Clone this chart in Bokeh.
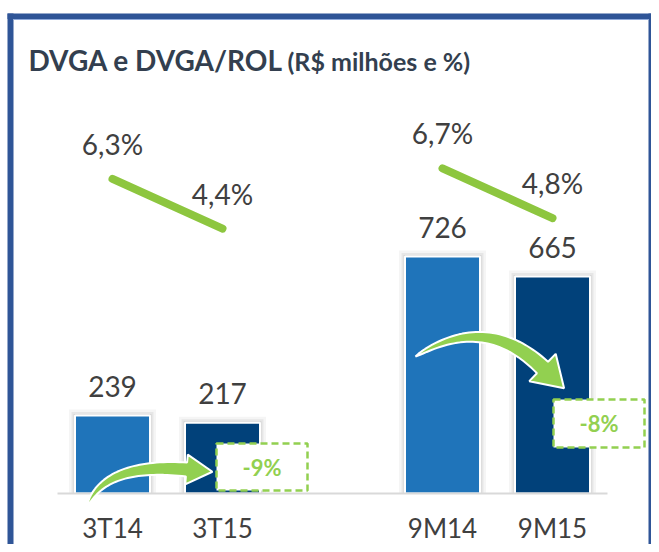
import math
from bokeh.plotting import figure
from bokeh.models import Range1d
from bokeh.core.properties import value
from bokeh.embed import file_html
from bokeh.resources import INLINE

# ---------------- data ----------------
categories = ["3T14", "3T15", "9M14", "9M15"]
groups = ["3T", "3T", "9M", "9M"]
dvga = [239, 217, 726, 665]
dvga_rol = [6.3, 4.4, 6.7, 4.8]
dvga_rol_labels = ["6,3%", "4,4%", "6,7%", "4,8%"]
variation_labels = ["-9%", "-8%"]
title_main = "DVGA e DVGA/ROL"
title_sub = "(R$ milhões e %)"

# ---------------- styles ----------------
BAR_COLORS = ["#1F74BA", "#01417A", "#1F74BA", "#01417A"]
GREEN_LINE = "#8DC63F"
GREEN = "#92D050"
TEXT = "#404040"
TITLE_C = "#333F4F"
FRAME_C = "#2F5597"
FONT = "Lato"

W, H = 651, 544

# x positions: index plus one empty slot between groups
xs = []
g_idx, prev = -1, None
for i, g in enumerate(groups):
    if g != prev:
        g_idx += 1
        prev = g
    xs.append(i + g_idx)

# layout mapping (canvas pixels -> data)
PX_UNIT = 110.0   # px per x unit
X0 = 112.0        # canvas px of x = 0
Y0 = 493.0        # canvas px of baseline
K = 237.0 / 726.0 # px per R$ milhão


def X(px):
    return (px - X0) / PX_UNIT


def Y(py):
    return (Y0 - py) / K


PCT_MID, PCT_PY, PCT_K = 5.55, 198.0, 26.26

p = figure(width=W, height=H,
           x_range=Range1d(X(0), X(W)), y_range=Range1d(Y(H), Y(0)),
           x_axis_type=None, y_axis_type=None,
           toolbar_location=None, output_backend="svg",
           min_border=0, outline_line_color=None)
p.extra_y_ranges = {"pct": Range1d(PCT_MID + (PCT_PY - H) / PCT_K,
                                   PCT_MID + (PCT_PY - 0) / PCT_K)}
p.background_fill_color = "white"
p.border_fill_color = "white"
p.xgrid.visible = False
p.ygrid.visible = False

# frame border (left, top, right)
p.quad(left=[X(7), X(7), X(648)], right=[X(13), X(W), X(W)],
       top=[Y(13), Y(13), Y(13)], bottom=[Y(H), Y(18.5), Y(H)],
       fill_color=FRAME_C, line_color=None)
p.segment(x0=[X(13)], y0=[Y(19)], x1=[X(648)], y1=[Y(19)],
          line_color="#8FAADC", line_width=1)

# title
p.text(x=[X(28)], y=[Y(59)], text=[title_main], text_font=value(FONT),
       text_font_style="bold", text_font_size="28px", text_color=TITLE_C,
       text_baseline="middle", text_align="left")
p.text(x=[X(287)], y=[Y(60)], text=[title_sub], text_font=value(FONT),
       text_font_style="bold", text_font_size="25px", text_color=TITLE_C,
       text_baseline="middle", text_align="left")

# bar shadows
bw = 75.0 / PX_UNIT
for extra, alpha in [(12, 0.04), (7, 0.06), (3, 0.08)]:
    p.vbar(x=xs, top=[v + (extra / 2) / K for v in dvga], bottom=0,
           width=bw + extra / PX_UNIT, fill_color="black", fill_alpha=alpha,
           line_color=None)

# bars
p.vbar(x=xs, top=dvga, bottom=0, width=bw, fill_color=BAR_COLORS,
       line_color="white", line_width=2)

# baseline
p.segment(x0=[xs[0] - 0.5], y0=[0], x1=[xs[-1] + 0.5], y1=[0],
          line_color="#D9D9D9", line_width=2)

# value labels
p.text(x=xs, y=dvga, text=[str(v) for v in dvga], y_offset=-29,
       text_font=value(FONT), text_font_size="28px", text_color=TEXT,
       text_align="center", text_baseline="middle")

# category labels
p.text(x=xs, y=[0] * len(xs), text=categories, y_offset=34,
       text_font=value(FONT), text_font_size="26px", text_color=TEXT,
       text_align="center", text_baseline="middle")

# percentage lines + labels
for i in range(0, len(xs), 2):
    p.line(x=xs[i:i + 2], y=dvga_rol[i:i + 2], y_range_name="pct",
           line_color=GREEN_LINE, line_width=8, line_cap="round")
p.text(x=xs, y=dvga_rol, text=dvga_rol_labels, y_range_name="pct",
       y_offset=-35, text_font=value(FONT), text_font_size="28px",
       text_color=TEXT, text_align="center", text_baseline="middle")


# curved arrows (computed in canvas pixels, converted to data)
def curved_arrow(p0, c, p2, w_end, head_len, head_half, n=40):
    upper, lower = [], []
    for k in range(n + 1):
        t = k / n
        bx = (1 - t) ** 2 * p0[0] + 2 * t * (1 - t) * c[0] + t ** 2 * p2[0]
        by = (1 - t) ** 2 * p0[1] + 2 * t * (1 - t) * c[1] + t ** 2 * p2[1]
        dx = 2 * (1 - t) * (c[0] - p0[0]) + 2 * t * (p2[0] - c[0])
        dy = 2 * (1 - t) * (c[1] - p0[1]) + 2 * t * (p2[1] - c[1])
        L = math.hypot(dx, dy)
        nx, ny = -dy / L, dx / L
        w = w_end * (t ** 0.6) / 2
        upper.append((bx + nx * w, by + ny * w))
        lower.append((bx - nx * w, by - ny * w))
    dx, dy = p2[0] - c[0], p2[1] - c[1]
    L = math.hypot(dx, dy)
    ux, uy = dx / L, dy / L
    nx, ny = -uy, ux
    wing1 = (p2[0] + nx * head_half, p2[1] + ny * head_half)
    wing2 = (p2[0] - nx * head_half, p2[1] - ny * head_half)
    tip = (p2[0] + ux * head_len, p2[1] + uy * head_len)
    pts = upper + [wing1, tip, wing2] + lower[::-1]
    return [X(q[0]) for q in pts], [Y(q[1]) for q in pts]


a1 = curved_arrow((87, 505), (105, 462), (186, 469), 14, 26, 15)
a2 = curved_arrow((415, 356), (485, 312), (542, 367), 16, 30, 19)
p.patches(xs=[a1[0], a2[0]], ys=[a1[1], a2[1]], fill_color=GREEN,
          line_color="white", line_width=2)

# variation boxes
boxes = [(216, 307, 443, 490), (553, 644, 399, 447)]
p.quad(left=[X(b[0]) for b in boxes], right=[X(b[1]) for b in boxes],
       top=[Y(b[2]) for b in boxes], bottom=[Y(b[3]) for b in boxes],
       fill_color="white", line_color=GREEN, line_width=2.5,
       line_dash="7 4")
p.text(x=[X((b[0] + b[1]) / 2) for b in boxes],
       y=[Y((b[2] + b[3]) / 2) for b in boxes], text=variation_labels,
       text_font=value(FONT), text_font_style="bold", text_font_size="22px",
       text_color=GREEN, text_align="center", text_baseline="middle")

open("out.html", "w").write(file_html(p, INLINE))
